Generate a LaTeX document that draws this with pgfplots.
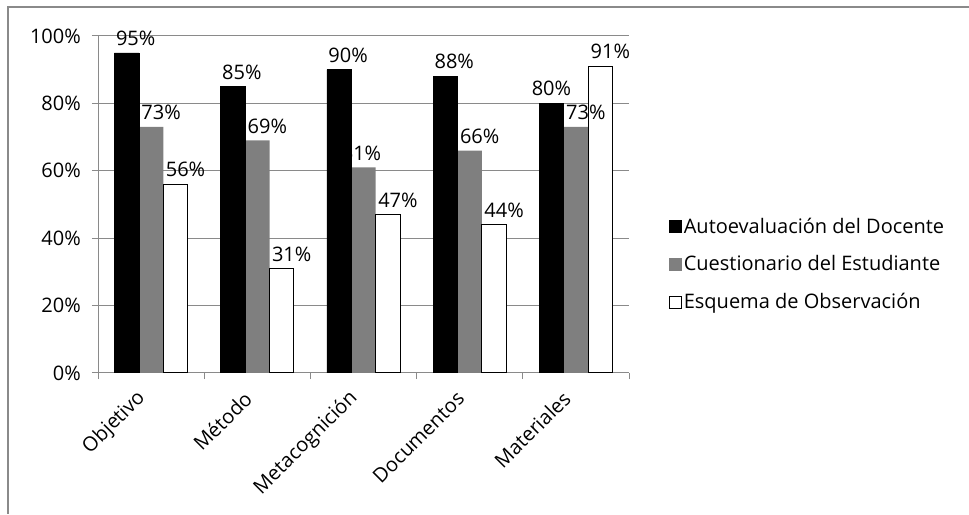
\documentclass[border=0pt]{standalone}
\usepackage{pgfplots}
\pgfplotsset{compat=1.18}
\usepackage{fontspec}
\setmainfont{Open Sans}
\definecolor{linegray}{HTML}{8A8A8A}
\definecolor{bargray}{HTML}{7F7F7F}
\newcommand{\cf}{\fontsize{20}{24}\selectfont}
\begin{document}
\begin{tikzpicture}
\path[use as bounding box] (0pt,0pt) rectangle (969pt,514pt);
\draw[linegray, line width=1.2pt] (969pt,507pt) -- (8pt,507pt) -- (8pt,0pt);
\begin{axis}[
  at={(98pt,141pt)}, anchor=south west,
  scale only axis, width=531pt, height=337pt,
  xmin=-0.5, xmax=4.5, ymin=0, ymax=100,
  axis lines*=left,
  axis line style={linegray, line width=1pt},
  ymajorgrids, grid style={linegray, line width=1pt},
  ytick={0,20,...,100},
  yticklabel={\pgfmathprintnumber{\tick}\%},
  xtick={0,1,2,3,4},
  xticklabels={Objetivo,Método,Metacognición,Documentos,Materiales},
  minor xtick={-0.5,0.5,1.5,2.5,3.5,4.5},
  major x tick style={draw=none},
  tick align=outside,
  major tick length=6pt, minor tick length=6pt,
  tick style={linegray, line width=1pt},
  /pgf/number format/assume math mode=true,
  ticklabel style={font=\cf},
  xticklabel style={xshift=-9pt, yshift=-16pt, rotate=45, anchor=east, inner sep=0pt},
  yticklabel style={inner sep=0pt, xshift=-11pt},
  ybar, bar width=0.23,
  nodes near coords={\pgfmathprintnumber{\pgfplotspointmeta}\%},
  every node near coord/.append style={font=\cf, inner sep=0pt, yshift=7pt, text=black},
  legend style={draw=none, fill=none, at={(1.075,0.323)}, anchor=west,
    font=\cf, row sep=17pt, inner sep=0pt, nodes={inner sep=2pt}},
  legend cell align=left,
  legend image code/.code={\draw[#1] (0pt,-6pt) rectangle (12pt,6pt);},
]
\addlegendimage{fill=black, draw=black, line width=0.8pt}
\addlegendentry{Autoevaluación del Docente}
\addlegendimage{fill=bargray, draw=bargray}
\addlegendentry{Cuestionario del Estudiante}
\addlegendimage{fill=white, draw=black, line width=0.8pt}
\addlegendentry{Esquema de Observación}

% Cuestionario del Estudiante (bars)
\addplot[forget plot, bar shift=0, fill=bargray, draw=none, nodes near coords=]
  coordinates {(0,73) (1,69) (2,61) (3,66) (4,73)};
% Esquema de Observacion (bars)
\addplot[forget plot, bar shift=0.23, fill=white, draw=black, line width=1pt, nodes near coords=]
  coordinates {(0,56) (1,31) (2,47) (3,44) (4,91)};
% Cuestionario labels
\addplot[forget plot, bar shift=0, draw=none, fill=none,
  every node near coord/.append style={xshift=10pt}]
  coordinates {(0,73) (1,69) (3,66) (4,73)};
\addplot[forget plot, bar shift=0, draw=none, fill=none,
  every node near coord/.append style={xshift=-2pt}]
  coordinates {(2,61)};
% Autoevaluacion del Docente (bars + labels)
\addplot[forget plot, bar shift=-0.23, fill=black, draw=black, line width=0.5pt,
  every node near coord/.append style={xshift=9pt}]
  coordinates {(0,95) (1,85) (2,90) (3,88)};
\addplot[forget plot, bar shift=-0.23, fill=black, draw=black, line width=0.5pt]
  coordinates {(4,80)};
% Esquema labels
\addplot[forget plot, bar shift=0.23, draw=none, fill=none,
  every node near coord/.append style={xshift=10pt}]
  coordinates {(0,56) (1,31) (2,47) (3,44) (4,91)};
\end{axis}
\end{tikzpicture}
\end{document}
